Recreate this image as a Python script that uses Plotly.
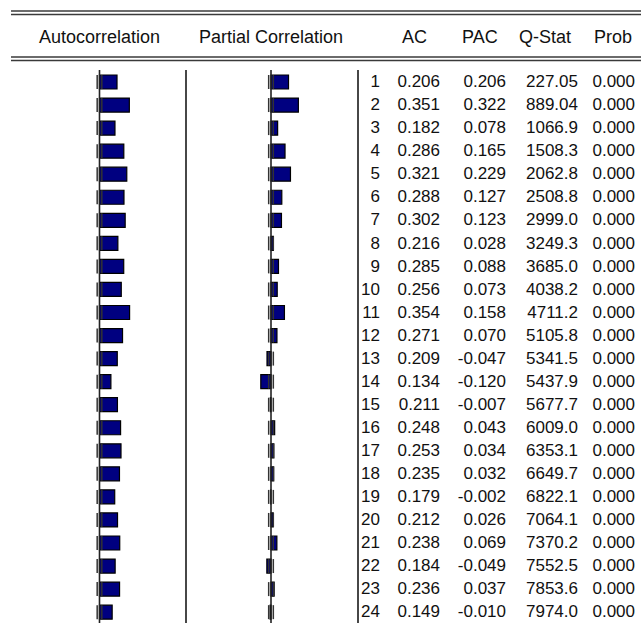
import math
import plotly.graph_objects as go

# Correlogram: lags, autocorrelations, partial autocorrelations, Q-statistics
lags = list(range(1, 25))
ac = [0.206, 0.351, 0.182, 0.286, 0.321, 0.288, 0.302, 0.216, 0.285, 0.256, 0.354, 0.271,
      0.209, 0.134, 0.211, 0.248, 0.253, 0.235, 0.179, 0.212, 0.238, 0.184, 0.236, 0.149]
pac = [0.206, 0.322, 0.078, 0.165, 0.229, 0.127, 0.123, 0.028, 0.088, 0.073, 0.158, 0.070,
       -0.047, -0.120, -0.007, 0.043, 0.034, 0.032, -0.002, 0.026, 0.069, -0.049, 0.037, -0.010]
q_stat = [227.05, 889.04, 1066.9, 1508.3, 2062.8, 2508.8, 2999.0, 3249.3, 3685.0, 4038.2, 4711.2, 5105.8,
          5341.5, 5437.9, 5677.7, 6009.0, 6353.1, 6649.7, 6822.1, 7064.1, 7370.2, 7552.5, 7853.6, 7974.0]
prob = [0.000] * 24
nobs = 5347
headers = ["Autocorrelation", "Partial Correlation", "AC", "PAC", "Q-Stat", "Prob"]

W, H = 641, 630
ROW0, PITCH = 82.0, 23.05          # pixel centre of first row, row pitch
SCALE = 85.0                        # pixels per unit of correlation
ZERO_AC, ZERO_PAC = 99.5, 271.0     # pixel x of the zero lines
SEP1, SEP2 = 186.0, 358.0           # panel separators
BODY_TOP, BODY_BOT = 70.0, 623.0

bound = 2.0 / math.sqrt(nobs)


def py(p):
    return 1 - p / H


def px(p):
    return p / W


def fmt_q(v):
    dec = max(0, 4 - int(math.floor(math.log10(v))))
    return f"{v:.{dec}f}"


FONT = "Liberation Sans, Arial, sans-serif"
NAVY = "#000080"
GRID = "#3a3a3a"

fig = go.Figure()

# confidence-band ticks (drawn first so bars cover them)
for xa, vals in (("x", ac), ("x2", pac)):
    for sgn in (-1, 1):
        fig.add_trace(go.Scatter(
            x=[sgn * bound] * len(lags), y=lags, xaxis=xa, yaxis="y", mode="markers",
            marker=dict(symbol="line-ns", size=10, line=dict(width=1.5, color="#333333")),
            hoverinfo="skip", showlegend=False))

bar_w = 14.0 / PITCH
fig.add_trace(go.Bar(x=ac, y=lags, orientation="h", base=0, width=bar_w, xaxis="x", yaxis="y",
                     marker=dict(color=NAVY, line=dict(color="#000000", width=1.2)), showlegend=False))
fig.add_trace(go.Bar(x=pac, y=lags, orientation="h", base=0, width=bar_w, xaxis="x2", yaxis="y",
                     marker=dict(color=NAVY, line=dict(color="#000000", width=1.2)), showlegend=False))

# table columns (right-aligned at the given x position, in pixels on x3)
cols = [
    (380, [str(k) for k in lags]),
    (440, [f"{v:.3f}" for v in ac]),
    (506, [f"{v:.3f}" for v in pac]),
    (578, [fmt_q(v) for v in q_stat]),
    (635, [f"{v:.3f}" for v in prob]),
]
for xpos, texts in cols:
    fig.add_trace(go.Scatter(
        x=[xpos] * len(lags), y=[k + 0.04 for k in lags], text=texts, mode="text",
        textposition="middle left", xaxis="x3", yaxis="y",
        textfont=dict(family=FONT, size=17, color="#111111"),
        hoverinfo="skip", showlegend=False))

shapes = []
# double rules above and below the header
for yy in (11, 14.5, 57, 60.5):
    shapes.append(dict(type="line", xref="paper", yref="paper", x0=px(11), x1=1,
                       y0=py(yy), y1=py(yy), line=dict(color=GRID, width=1.5)))
# zero lines
for xa in ("x", "x2"):
    shapes.append(dict(type="line", xref=xa, yref="paper", x0=0, x1=0,
                       y0=py(BODY_TOP), y1=py(BODY_BOT), line=dict(color="#222222", width=1.6)))
# panel separators
for xx in (SEP1, SEP2):
    shapes.append(dict(type="line", xref="paper", yref="paper", x0=px(xx), x1=px(xx),
                       y0=py(BODY_TOP), y1=py(BODY_BOT), line=dict(color="#333333", width=1.8)))

annotations = []
head_x = [ZERO_AC, ZERO_PAC, 414, 480, 545, 613]
for h, xx in zip(headers, head_x):
    annotations.append(dict(text=h, x=px(xx), y=py(37), xref="paper", yref="paper",
                            xanchor="center", yanchor="middle", showarrow=False,
                            font=dict(family=FONT, size=18, color="#111111")))

y_top = 1 - ROW0 / PITCH
y_bot = 1 + (H - ROW0) / PITCH

fig.update_layout(
    width=W, height=H, margin=dict(l=0, r=0, t=0, b=0),
    paper_bgcolor="white", plot_bgcolor="white", barmode="overlay",
    shapes=shapes, annotations=annotations,
    xaxis=dict(domain=[0, px(SEP1)], range=[-ZERO_AC / SCALE, (SEP1 - ZERO_AC) / SCALE],
               visible=False, fixedrange=True, anchor="y"),
    xaxis2=dict(domain=[px(SEP1), px(SEP2)], range=[(SEP1 - ZERO_PAC) / SCALE, (SEP2 - ZERO_PAC) / SCALE],
                visible=False, fixedrange=True, anchor="y"),
    xaxis3=dict(domain=[px(SEP2), 1], range=[SEP2, W], visible=False, fixedrange=True, anchor="y"),
    yaxis=dict(domain=[0, 1], range=[y_bot, y_top], visible=False, fixedrange=True),
)

fig.write_html("out.html")
